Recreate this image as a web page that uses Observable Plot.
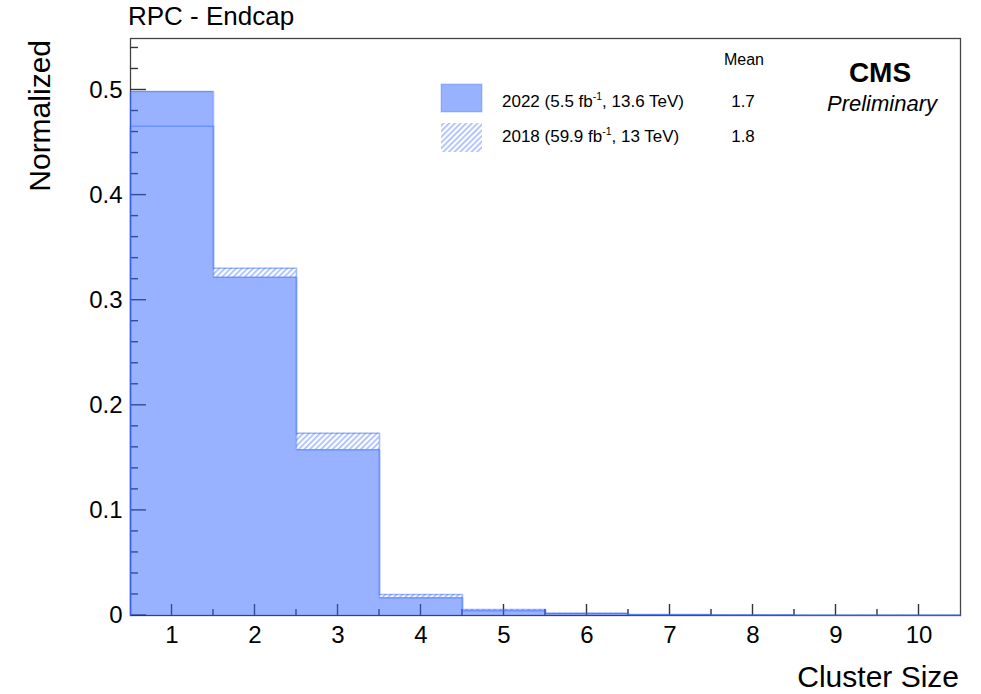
<!DOCTYPE html>
<html><head><meta charset="utf-8">
<script src="https://cdn.jsdelivr.net/npm/d3@7"></script>
<script src="https://cdn.jsdelivr.net/npm/@observablehq/plot@0.6"></script>
<style>
body{margin:0;background:#fff;}
#wrap{width:981px;height:694px;}
</style></head><body><div id="wrap"></div>
<script>
// ---- data ----
const bins = [1, 2, 3, 4, 5, 6, 7, 8, 9, 10];
const values2022 = [0.4985, 0.3218, 0.1576, 0.0168, 0.0045, 0.0018, 0.0008, 0.0005, 0.0003, 0.0002];
const values2018 = [0.4654, 0.3303, 0.1734, 0.0200, 0.0058, 0.0022, 0.0009, 0.0005, 0.0003, 0.0002];
const seriesNames = ["2022", "2018"];
const seriesLumi = ["5.5", "59.9"];
const seriesEnergy = ["13.6 TeV", "13 TeV"];
const seriesMeans = ["1.7", "1.8"];
const yMajorTicks = [0, 0.1, 0.2, 0.3, 0.4, 0.5];
const yMinorTicks = [0.02, 0.04, 0.06, 0.08, 0.12, 0.14, 0.16, 0.18, 0.22, 0.24, 0.26, 0.28,
  0.32, 0.34, 0.36, 0.38, 0.42, 0.44, 0.46, 0.48, 0.52, 0.54];
const xMajorTicks = [1, 2, 3, 4, 5, 6, 7, 8, 9, 10];
const xMinorTicks = [1.5, 2.5, 3.5, 4.5, 5.5, 6.5, 7.5, 8.5, 9.5];
const titleText = "RPC - Endcap";
const yLabel = "Normalized";
const xLabel = "Cluster Size";

// ---- layout ----
const W = 981, H = 694;
const mL = 130, mR = 21, mT = 38, mB = 79;
const FONT = "'Liberation Sans', Arial, Helvetica, sans-serif";

function stepPts(vals) {
  const pts = vals.map((v, i) => ({x: bins[i] - 0.5, y: v}));
  pts.push({x: bins[bins.length - 1] + 0.5, y: vals[vals.length - 1]});
  return pts;
}
function outlinePts(vals) {
  const pts = stepPts(vals);
  return [{x: pts[0].x, y: 0}, ...pts, {x: pts[pts.length - 1].x, y: 0}];
}

const TICK = "#333";
const BLUE = "#3366ff";

const svg = Plot.plot({
  width: W, height: H,
  marginLeft: mL, marginRight: mR, marginTop: mT, marginBottom: mB,
  style: {fontFamily: FONT, fontSize: "24px", color: "#000", background: "transparent"},
  x: {domain: [0.5, 10.5], label: null},
  y: {domain: [0, 0.549], label: null},
  marks: [
    // 2018 hatched histogram
    Plot.areaY(stepPts(values2018), {x: "x", y: "y", curve: "step-after", fill: "url(#hatch2018)"}),
    // white knockout under 2022 so the hatch does not show through
    Plot.areaY(stepPts(values2022), {x: "x", y: "y", curve: "step-after", fill: "white"}),
    Plot.frame({stroke: "#444", strokeWidth: 1.3}),
    // 2022 solid histogram (semi-transparent)
    Plot.areaY(stepPts(values2022), {x: "x", y: "y", curve: "step-after", fill: BLUE, fillOpacity: 0.5}),
    // outlines
    Plot.line(outlinePts(values2018), {x: "x", y: "y", curve: "step-after", stroke: BLUE, strokeOpacity: 0.45, strokeWidth: 1.5}),
    Plot.line(outlinePts(values2022), {x: "x", y: "y", curve: "step-after", stroke: BLUE, strokeOpacity: 0.45, strokeWidth: 1.5}),
    // axis labels
    Plot.axisY(yMajorTicks, {tickSize: 0, tickPadding: 8, tickFormat: d => d === 0 ? "0" : d.toFixed(1), label: null, fontSize: 24}),
    Plot.axisX(xMajorTicks, {tickSize: 0, tickPadding: 10, tickFormat: d => String(d), label: null, fontSize: 24})
  ]
});

const s = d3.select(svg);
const xs = svg.scale("x"), ys = svg.scale("y");
const x0 = mL, yBase = H - mB;

// hatch pattern
const defs = s.insert("defs", ":first-child");
const pat = defs.append("pattern").attr("id", "hatch2018")
  .attr("patternUnits", "userSpaceOnUse").attr("width", 4).attr("height", 4)
  .attr("patternTransform", "rotate(45)");
pat.append("rect").attr("x", 0).attr("y", 0).attr("width", 1.6).attr("height", 4)
  .attr("fill", BLUE).attr("fill-opacity", 0.45);

// inward ticks, placed under the semi-transparent 2022 fill (positions from Plot's scales)
const areas = svg.querySelectorAll('g[aria-label="area"]');
const blueArea = areas[areas.length - 1];
const tg = d3.create("svg:g").attr("stroke", TICK).attr("stroke-width", 1.4);
yMajorTicks.forEach(v => tg.append("line").attr("x1", x0).attr("x2", x0 + 16)
  .attr("y1", ys.apply(v)).attr("y2", ys.apply(v)));
yMinorTicks.forEach(v => tg.append("line").attr("x1", x0).attr("x2", x0 + 8)
  .attr("y1", ys.apply(v)).attr("y2", ys.apply(v)));
xMajorTicks.forEach(v => tg.append("line").attr("x1", xs.apply(v)).attr("x2", xs.apply(v))
  .attr("y1", yBase).attr("y2", yBase - 11));
xMinorTicks.forEach(v => tg.append("line").attr("x1", xs.apply(v)).attr("x2", xs.apply(v))
  .attr("y1", yBase).attr("y2", yBase - 6));
blueArea.parentNode.insertBefore(tg.node(), blueArea);

const g = s.append("g").attr("font-family", FONT).attr("fill", "#000").attr("text-anchor", "start");
// title
g.append("text").attr("x", 128).attr("y", 25).attr("font-size", 26).text(titleText);
// y label
g.append("text").attr("transform", "translate(50,40) rotate(-90)").attr("text-anchor", "end")
  .attr("font-size", 30).text(yLabel);
// x label
g.append("text").attr("x", 959).attr("y", 687).attr("text-anchor", "end")
  .attr("font-size", 30).text(xLabel);
// CMS Preliminary
g.append("text").attr("x", 880).attr("y", 82).attr("text-anchor", "middle")
  .attr("font-size", 28).attr("font-weight", "bold").text("CMS");
g.append("text").attr("x", 882).attr("y", 111).attr("text-anchor", "middle")
  .attr("font-size", 22).attr("font-style", "italic").text("Preliminary");
// legend
g.append("text").attr("x", 744).attr("y", 65).attr("text-anchor", "middle")
  .attr("font-size", 16).text("Mean");
const rowBase = [107, 142];
const swTop = [84, 123];
seriesNames.forEach((name, i) => {
  if (i === 0) {
    g.append("rect").attr("x", 441).attr("y", swTop[i]).attr("width", 41).attr("height", 28)
      .attr("fill", BLUE).attr("fill-opacity", 0.5).attr("stroke", BLUE).attr("stroke-opacity", 0.3);
  } else {
    g.append("rect").attr("x", 441).attr("y", swTop[i]).attr("width", 41).attr("height", 29)
      .attr("fill", "url(#hatch2018)");
  }
  const t = g.append("text").attr("x", 502).attr("y", rowBase[i]).attr("font-size", 17)
    .attr("text-anchor", "start");
  t.append("tspan").text(`${name} (${seriesLumi[i]} fb`);
  t.append("tspan").attr("font-size", 10.5).attr("dy", -7).text("-1");
  t.append("tspan").attr("dy", 7).text(`, ${seriesEnergy[i]})`);
  g.append("text").attr("x", 743).attr("y", rowBase[i]).attr("text-anchor", "middle")
    .attr("font-size", 17).text(seriesMeans[i]);
});

document.getElementById("wrap").appendChild(svg);
</script>
</body></html>
